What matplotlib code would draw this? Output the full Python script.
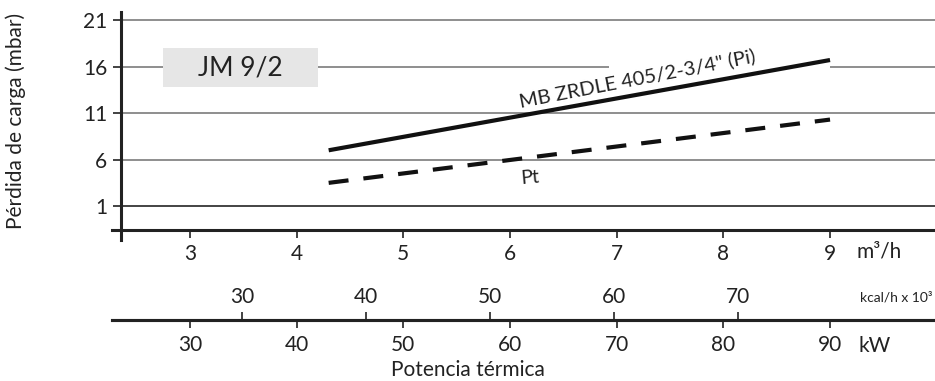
import matplotlib
matplotlib.use("Agg")
from matplotlib import pyplot as plt
from matplotlib.patches import Rectangle

plt.rcParams['font.family'] = ['Lato', 'DejaVu Sans']

# caudal de gas, m3/h
flow = [4.3, 9.0]
p_inlet = [7.0, 16.7]   # MB ZRDLE 405/2-3/4" (Pi)
p_total = [3.5, 10.3]   # Pt

y_ticks = [1, 6, 11, 16, 21]
flow_ticks = [3, 4, 5, 6, 7, 8, 9]
kw_ticks = [30, 40, 50, 60, 70, 80, 90]
kcal_ticks = [30, 40, 50, 60, 70]

W, H = 935, 381
ink = '#222222'
fs = 15

fig = plt.figure(figsize=(W / 100, H / 100), dpi=100)
ax = fig.add_axes([112 / W, 141 / H, 823 / W, 228 / H])
ax.set_xlim(2.269, 9.984)
ax.set_ylim(-2.64, 21.86)

for s in ['top', 'right']:
    ax.spines[s].set_visible(False)
ax.spines['left'].set_position(('data', 2.353))
ax.spines['bottom'].set_position(('data', -1.57))
ax.spines['left'].set_linewidth(2.2)
ax.spines['bottom'].set_linewidth(2.2)
ax.spines['left'].set_color(ink)
ax.spines['bottom'].set_color(ink)

ax.set_yticks(y_ticks)
ax.set_xticks(flow_ticks)
ax.tick_params(axis='both', direction='out', length=6, width=1.2,
               colors=ink, labelsize=fs)
ax.tick_params(axis='x', pad=4)
ax.tick_params(axis='y', pad=4)

# lineas horizontales
for y in y_ticks:
    c = '#111111' if y == 1 else '#707070'
    if y == 16:
        ax.hlines(y, 2.353, 6.93, colors=c, lw=1.1, zorder=1)
        ax.hlines(y, 9.0, 9.984, colors=c, lw=1.1, zorder=1)
    else:
        ax.hlines(y, 2.353, 9.984, colors=c, lw=1.1, zorder=1)

ax.plot(flow, p_inlet, color='#111111', lw=3, solid_capstyle='butt', zorder=4)
ax.plot(flow, p_total, color='#111111', lw=3, dashes=(4.8, 3.6),
        dash_capstyle='butt', zorder=4)

ax.text(7.2, 14.1, 'MB ZRDLE 405/2-3/4" (Pi)', rotation=11,
        rotation_mode='anchor', ha='center', va='baseline',
        fontsize=14.5, color=ink, zorder=5)
ax.text(6.19, 4.1, 'Pt', rotation=5, ha='center', va='center',
        fontsize=14, color=ink, zorder=5)

ax.add_patch(Rectangle((2.747, 13.75), 1.453, 4.29, facecolor='#e6e6e6',
                       edgecolor='none', zorder=3))
ax.text(2.747 + 1.453 / 2, 13.75 + 4.29 / 2, 'JM 9/2', ha='center',
        va='center', fontsize=19, color=ink, zorder=5)

# escalas de potencia
loc = (61 - 141) / 228
sec_kw = ax.secondary_xaxis(loc, functions=(lambda x: x * 10, lambda k: k / 10))
sec_kw.set_xticks(kw_ticks)
sec_kw.tick_params(direction='out', length=6, width=1.2, colors=ink,
                   labelsize=fs, pad=5)

sec_kcal = ax.secondary_xaxis(loc, functions=(lambda x: x * 8.6, lambda k: k / 8.6))
sec_kcal.set_alignment('top')
sec_kcal.set_xticks(kcal_ticks)
sec_kcal.tick_params(direction='out', length=6, width=1.2, colors=ink,
                     labelsize=fs, pad=3)
for sec in (sec_kw, sec_kcal):
    for s in ('top', 'bottom'):
        sec.spines[s].set_linewidth(2.2)
        sec.spines[s].set_color(ink)

fig.text(857 / W, 1 - 252 / H, 'm³/h', fontsize=fs, color=ink, va='center')
fig.text(858 / W, 1 - 346 / H, 'kW', fontsize=fs, color=ink, va='center')
fig.text(932 / W, 1 - 298 / H, 'kcal/h x 10³', fontsize=10, color=ink,
         va='center', ha='right')

fig.text(16 / W, 1 - 121 / H, 'Pérdida de carga (mbar)', rotation=90,
         fontsize=15, color=ink, ha='center', va='center')
fig.text(0.5, 1 - 370 / H, 'Potencia térmica', fontsize=15, color=ink,
         ha='center', va='center')

fig.savefig('out.png', dpi=100)
